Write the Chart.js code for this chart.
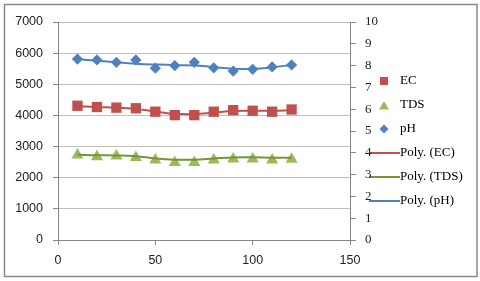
<!DOCTYPE html>
<html>
<head>
<meta charset="utf-8">
<script src="https://cdn.jsdelivr.net/npm/chart.js@4"></script>
<style>
html, body { margin: 0; padding: 0; background: #fff; }
</style>
</head>
<body>
<canvas id="grafica" width="480" height="281"></canvas>
<script>
// valores
var xVals = [10, 20, 30, 40, 50, 60, 70, 80, 90, 100, 110, 120];
var ecVals = [4310, 4270, 4250, 4230, 4120, 4010, 4010, 4120, 4170, 4150, 4120, 4190];
var tdsVals = [2730, 2670, 2700, 2650, 2570, 2490, 2490, 2570, 2600, 2600, 2570, 2590];
var phVals = [8.30, 8.26, 8.15, 8.26, 7.88, 8.00, 8.15, 7.90, 7.75, 7.83, 7.94, 8.03];
// lineas de tendencia (Poly.) leidas tambien de la grafica
var ecTrend = [4300, 4270, 4250, 4210, 4130, 4050, 4040, 4090, 4140, 4150, 4150, 4170];
var tdsTrend = [2740, 2720, 2715, 2690, 2620, 2580, 2580, 2615, 2650, 2655, 2645, 2645];
var phTrend = [8.30, 8.22, 8.15, 8.09, 8.05, 8.02, 8.01, 7.93, 7.86, 7.85, 7.92, 8.03];
var leftTicks = [0, 1000, 2000, 3000, 4000, 5000, 6000, 7000];
var rightTicks = [0, 1, 2, 3, 4, 5, 6, 7, 8, 9, 10];
var xTicks = [0, 50, 100, 150];

var rojo = '#C0504D', verde = '#9BBB59', verdeOscuro = '#77933C', azul = '#4F81BD';

function puntos(ys) {
    return xVals.map(function (x, i) { return { x: x, y: ys[i] }; });
}

// pequeños dibujos para la leyenda
function marca(tipo, color) {
    var c = document.createElement('canvas');
    var g;
    if (tipo === 'line') {
        c.width = 31; c.height = 2;
        g = c.getContext('2d');
        g.fillStyle = color;
        g.fillRect(0, 0, 31, 2);
        return c;
    }
    c.width = 10; c.height = 10;
    g = c.getContext('2d');
    g.fillStyle = color;
    g.beginPath();
    if (tipo === 'rect') {
        g.rect(1, 1, 8, 8);
    } else if (tipo === 'triangle') {
        g.moveTo(5, 1); g.lineTo(10, 9.5); g.lineTo(0, 9.5);
    } else {
        g.moveTo(5, 0.5); g.lineTo(9.5, 5); g.lineTo(5, 9.5); g.lineTo(0.5, 5);
    }
    g.closePath();
    g.fill();
    return c;
}

function serieMarcas(label, ys, color, estilo, eje, radio) {
    return {
        label: label,
        data: puntos(ys),
        yAxisID: eje,
        backgroundColor: color,
        borderColor: color,
        borderWidth: 0,
        pointStyle: estilo,
        pointRadius: radio,
        showLine: false,
        order: 1,
        legendImg: marca(estilo, color)
    };
}

function serieTendencia(label, ys, color, eje) {
    return {
        label: label,
        data: puntos(ys),
        yAxisID: eje,
        borderColor: color,
        backgroundColor: color,
        borderWidth: 2,
        pointRadius: 0,
        showLine: true,
        tension: 0.4,
        order: 0,
        legendImg: marca('line', color)
    };
}

function sinComas(v) { return String(v); }

var marco = {
    id: 'marco',
    beforeDraw: function (chart) {
        var ctx = chart.ctx;
        ctx.save();
        ctx.fillStyle = '#fff';
        ctx.fillRect(0, 0, chart.width, chart.height);
        ctx.restore();
    },
    afterDraw: function (chart) {
        var ctx = chart.ctx;
        ctx.save();
        ctx.strokeStyle = '#8a8a8a';
        ctx.lineWidth = 1.5;
        ctx.strokeRect(4.5, 4.5, 472.5, 272);
        ctx.restore();
    }
};

// la leyenda del original se monta encima de las etiquetas del eje derecho
var moverLeyenda = {
    id: 'moverLeyenda',
    afterLayout: function (chart) {
        var l = chart.legend;
        l.left -= 16.5;
        l.right -= 6.5;
        l.top -= 10.5;
        l.bottom -= 10.5;
    }
};

var ctx = document.getElementById('grafica').getContext('2d');

var grafica = new Chart(ctx, {
    type: 'scatter',
    data: {
        datasets: [
            serieMarcas('EC', ecVals, rojo, 'rect', 'y', 7.3),
            serieMarcas('TDS', tdsVals, verde, 'triangle', 'y', 7),
            serieMarcas('pH', phVals, azul, 'rectRot', 'y2', 5.6),
            serieTendencia('Poly. (EC)', ecTrend, rojo, 'y'),
            serieTendencia('Poly. (TDS)', tdsTrend, verdeOscuro, 'y'),
            serieTendencia('Poly. (pH)', phTrend, azul, 'y2')
        ]
    },
    options: {
        responsive: false,
        animation: false,
        layout: { padding: { left: 0, top: 22, right: 0, bottom: 0 } },
        plugins: {
            tooltip: { enabled: false },
            legend: {
                position: 'right',
                maxWidth: 100,
                labels: {
                    usePointStyle: true,
                    pointStyleWidth: 19,
                    padding: 11,
                    color: '#000',
                    font: { family: 'Liberation Serif', size: 13 },
                    sort: function (a, b) { return a.datasetIndex - b.datasetIndex; },
                    generateLabels: function (chart) {
                        return chart.data.datasets.map(function (ds, i) {
                            return {
                                text: ds.label,
                                datasetIndex: i,
                                fillStyle: ds.backgroundColor,
                                strokeStyle: ds.borderColor,
                                lineWidth: 0,
                                pointStyle: ds.legendImg,
                                hidden: false,
                                fontColor: '#000'
                            };
                        });
                    }
                }
            }
        },
        scales: {
            x: {
                type: 'linear',
                min: 0,
                max: 150,
                afterBuildTicks: function (s) { s.ticks = xTicks.map(function (v) { return { value: v }; }); },
                afterFit: function (s) { s.height = 41; },
                border: { color: '#868686' },
                grid: { drawOnChartArea: false, tickLength: 5, tickColor: '#868686' },
                ticks: { padding: 8, color: '#222', font: { family: 'Liberation Sans', size: 12.5 }, callback: sinComas }
            },
            y: {
                position: 'left',
                min: 0,
                max: 7000,
                afterBuildTicks: function (s) { s.ticks = leftTicks.map(function (v) { return { value: v }; }); },
                afterFit: function (s) { s.width = 58; },
                border: { color: '#868686' },
                grid: { color: '#bfbfbf', tickLength: 5, tickColor: '#868686' },
                ticks: { padding: 10, color: '#222', font: { family: 'Liberation Sans', size: 12.5 }, callback: sinComas }
            },
            y2: {
                position: 'right',
                min: 0,
                max: 10,
                afterBuildTicks: function (s) { s.ticks = rightTicks.map(function (v) { return { value: v }; }); },
                afterFit: function (s) { s.width = 30; },
                border: { color: '#868686' },
                grid: { drawOnChartArea: false, tickLength: 6, tickColor: '#868686' },
                ticks: { padding: 9, color: '#222', font: { family: 'Liberation Serif', size: 13 }, callback: sinComas }
            }
        }
    },
    plugins: [marco, moverLeyenda]
});
</script>
</body>
</html>
